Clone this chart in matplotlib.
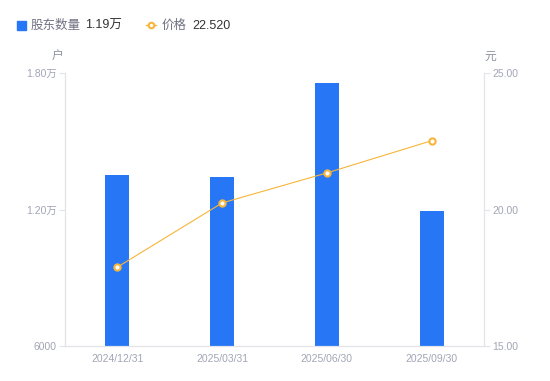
import matplotlib
matplotlib.use("Agg")
import matplotlib.pyplot as plt

plt.rcParams["font.family"] = ["Liberation Sans", "Noto Sans CJK SC", "DejaVu Sans"]

dates = ["2024/12/31", "2025/03/31", "2025/06/30", "2025/09/30"]
holders = [13520, 13430, 17560, 11930]
prices = [17.89, 20.24, 21.34, 22.52]

left_ticks = [6000, 12000, 18000]
left_labels = ["6000", "1.20万", "1.80万"]
right_ticks = [15, 20, 25]
right_labels = ["15.00", "20.00", "25.00"]

BLUE = "#2776F6"
ORANGE = "#F7B53A"
AXIS = "#E3E4EA"
TICK_TXT = "#A2A5B5"

fig = plt.figure(figsize=(5.5, 3.81), dpi=100)
ax = fig.add_axes([65 / 550, 35 / 381, 419 / 550, 273 / 381])
ax2 = ax.twinx()

x = list(range(len(dates)))
ax.bar(x, holders, width=0.23, color=BLUE, zorder=2)
ax.set_xlim(-0.5, len(dates) - 0.5)
ax.set_ylim(6000, 18000)
ax.set_yticks(left_ticks)
ax.set_yticklabels(left_labels)
ax.set_xticks(x)
ax.set_xticklabels(dates)

ax2.plot(x, prices, color=ORANGE, lw=0.8, marker="o", ms=4.5,
         mfc="white", mec=ORANGE, mew=1.5, zorder=3)
ax2.set_ylim(15, 25)
ax2.set_yticks(right_ticks)
ax2.set_yticklabels(right_labels)

for a in (ax, ax2):
    a.spines["top"].set_visible(False)
    for side in ("left", "right", "bottom"):
        a.spines[side].set_color(AXIS)
        a.spines[side].set_linewidth(0.8)
    a.tick_params(axis="y", colors=AXIS, labelcolor=TICK_TXT, labelsize=7.5,
                  length=4, width=0.8, pad=2)
ax.tick_params(axis="x", length=0, labelcolor=TICK_TXT, labelsize=7.5, pad=6)

fig.text(58 / 550, 1 - 57 / 381, "户", fontsize=8.5, color="#8E91A0",
         ha="center", va="center")
fig.text(490 / 550, 1 - 57 / 381, "元", fontsize=8.5, color="#8E91A0",
         ha="center", va="center")

# legend row
ly = 1 - 25 / 381
ty = 1 - 26 / 381
fig.patches.append(plt.Rectangle((17 / 550, 1 - 29.5 / 381), 9 / 550, 9 / 381,
                                 transform=fig.transFigure, color=BLUE,
                                 figure=fig))
fig.text(31 / 550, ty, "股东数量", fontsize=9, color="#6F7282", va="center")
fig.text(85 / 550, ty, "1.19万", fontsize=9, color="#333333", va="center")
fig.lines.append(plt.Line2D([146 / 550, 156 / 550], [ly, ly], transform=fig.transFigure,
                            color=ORANGE, lw=1, figure=fig))
fig.lines.append(plt.Line2D([151 / 550], [ly], transform=fig.transFigure,
                            color=ORANGE, marker="o", ms=4, mfc="white",
                            mec=ORANGE, mew=1.5, figure=fig))
fig.text(162 / 550, ty, "价格", fontsize=9, color="#6F7282", va="center")
fig.text(192 / 550, ty, "22.520", fontsize=9, color="#333333", va="center")

fig.savefig("out.png", dpi=100)
